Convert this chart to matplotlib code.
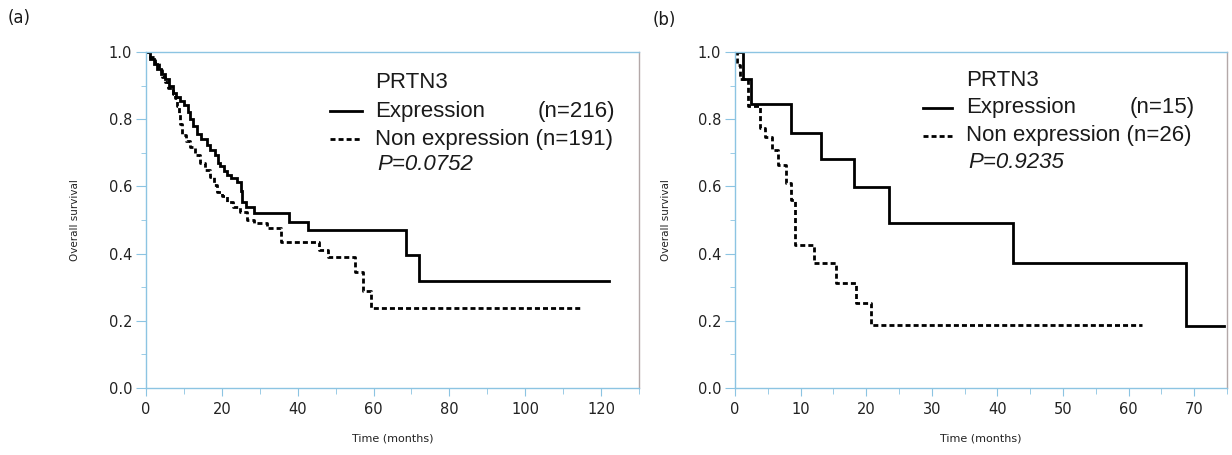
import matplotlib
matplotlib.use("Agg")
import matplotlib.pyplot as plt
from matplotlib.ticker import MultipleLocator, FormatStrFormatter

# Kaplan-Meier curves (time in months, survival after the step)
a_expr_t = [0, 1, 2, 3, 4, 5, 6, 7, 8, 9, 10, 11, 11.5, 12.5, 13.4, 14.5, 16, 17, 18.3, 19,
            19.6, 20.5, 21.4, 22.5, 24, 25, 25.3, 26.5, 28.4, 37.7, 42.6, 68.6, 72.1, 122]
a_expr_s = [1.0, 0.98, 0.965, 0.95, 0.935, 0.92, 0.9, 0.877, 0.865, 0.855, 0.842, 0.82, 0.80,
            0.78, 0.755, 0.74, 0.723, 0.708, 0.693, 0.669, 0.66, 0.645, 0.634, 0.625, 0.614,
            0.585, 0.554, 0.54, 0.522, 0.495, 0.47, 0.396, 0.319, 0.319]

a_non_t = [0, 1, 2.4, 3.3, 4.2, 5, 5.9, 7, 7.7, 8.2, 8.6, 9, 9.5, 10.5, 11.7, 13, 14.3, 15.5,
           17, 18, 18.7, 20, 21.4, 23, 24.9, 26.7, 28.4, 32, 35.5, 45.6, 48, 55.2, 57.2, 59.3, 115]
a_non_s = [1.0, 0.985, 0.966, 0.945, 0.927, 0.91, 0.892, 0.875, 0.862, 0.84, 0.818, 0.785,
           0.753, 0.735, 0.718, 0.692, 0.669, 0.65, 0.629, 0.605, 0.584, 0.57, 0.555, 0.54,
           0.525, 0.50, 0.49, 0.475, 0.435, 0.41, 0.389, 0.346, 0.29, 0.237, 0.237]

b_expr_t = [0, 1.26, 2.4, 8.6, 13.1, 18.1, 23.5, 42.4, 68.7, 74.5]
b_expr_s = [1.0, 0.92, 0.845, 0.758, 0.681, 0.598, 0.49, 0.371, 0.185, 0.185]

b_non_t = [0, 0.3, 0.8, 2.0, 3.8, 4.6, 5.6, 6.6, 7.8, 8.6, 9.1, 12.1, 15.4, 18.4, 20.7, 62]
b_non_s = [1.0, 0.962, 0.92, 0.84, 0.773, 0.748, 0.708, 0.664, 0.611, 0.56, 0.426, 0.373,
           0.312, 0.252, 0.188, 0.188]

panels = [
    {"tag": "(a)", "t1": a_expr_t, "s1": a_expr_s, "t2": a_non_t, "s2": a_non_s,
     "n1": "(n=216)", "n2": "(n=191)", "p": "P=0.0752", "xmax": 130, "xmaj": 20, "xmin": 10},
    {"tag": "(b)", "t1": b_expr_t, "s1": b_expr_s, "t2": b_non_t, "s2": b_non_s,
     "n1": "(n=15)", "n2": "(n=26)", "p": "P=0.9235", "xmax": 75, "xmaj": 10, "xmin": 5},
]

W, H = 1232, 455
spine_blue = "#8cc4e2"
dash = (0, (1.8, 1.1))
legend_font = "Liberation Sans"
legend_size = 16

fig = plt.figure(figsize=(W / 100, H / 100), dpi=100)

# axes boxes in pixels: left, right, top, bottom
boxes = [(146, 639, 52, 388), (735, 1227, 52, 388)]
# legend anchors in pixels: sample line x0, x1, text x, n x, first row y
leg_pos = [(330, 362, 375, 538, 83), (923, 952, 966, 1130, 80)]
tag_pos = [(8, 18), (653, 20)]
ylab_x = [75, 666]


def fx(px):
    return px / W


def fy(py):
    return 1 - py / H


for i, p in enumerate(panels):
    l, r, t, b = boxes[i]
    ax = fig.add_axes([fx(l), fy(b), fx(r) - fx(l), fy(t) - fy(b)])

    ax.step(p["t1"], p["s1"], where="post", color="black", lw=2.0, solid_joinstyle="miter")
    ax.step(p["t2"], p["s2"], where="post", color="black", lw=2.0, linestyle=dash)

    ax.set_xlim(0, p["xmax"])
    ax.set_ylim(0, 1.0)
    ax.xaxis.set_major_locator(MultipleLocator(p["xmaj"]))
    ax.xaxis.set_minor_locator(MultipleLocator(p["xmin"]))
    ax.yaxis.set_major_locator(MultipleLocator(0.2))
    ax.yaxis.set_minor_locator(MultipleLocator(0.1))
    ax.yaxis.set_major_formatter(FormatStrFormatter("%.1f"))

    for side in ["left", "bottom", "top"]:
        ax.spines[side].set_color(spine_blue)
    ax.spines["right"].set_color("#b3a8a8")
    for sp in ax.spines.values():
        sp.set_linewidth(1.0)

    ax.tick_params(axis="both", which="both", color=spine_blue, labelcolor="#222222",
                   labelsize=10.5, direction="out")
    ax.tick_params(axis="y", which="major", length=7, pad=3)
    ax.tick_params(axis="y", which="minor", length=3.5)
    ax.tick_params(axis="x", which="major", length=6, pad=4)
    ax.tick_params(axis="x", which="minor", length=4.5)

    ax.set_xlabel("Time (months)", fontsize=8, color="#222222", labelpad=12)
    fig.text(fx(ylab_x[i]), fy((t + b) / 2), "Overall survival", rotation=90,
             fontsize=7.5, color="#222222", ha="center", va="center")

    # legend drawn by hand to match the original layout
    x0, x1, tx, nx, y0 = leg_pos[i]
    row = 28
    fig.text(fx(tx), fy(y0), "PRTN3", fontsize=legend_size, family=legend_font,
             color="#1a1a1a", va="center")
    fig.add_artist(plt.Line2D([fx(x0), fx(x1)], [fy(y0 + row), fy(y0 + row)],
                              color="black", lw=2.0, transform=fig.transFigure))
    fig.add_artist(plt.Line2D([fx(x0), fx(x1)], [fy(y0 + 2 * row), fy(y0 + 2 * row)],
                              color="black", lw=2.0, linestyle=dash,
                              transform=fig.transFigure))
    fig.text(fx(tx), fy(y0 + row), "Expression", fontsize=legend_size, family=legend_font,
             color="#1a1a1a", va="center")
    fig.text(fx(nx), fy(y0 + row), p["n1"], fontsize=legend_size, family=legend_font,
             color="#1a1a1a", va="center")
    fig.text(fx(tx), fy(y0 + 2 * row), "Non expression " + p["n2"], fontsize=legend_size,
             family=legend_font, color="#1a1a1a", va="center")
    fig.text(fx(tx + 2), fy(y0 + 3 * row - 2), p["p"], fontsize=legend_size,
             family=legend_font, style="italic", color="#1a1a1a", va="center")

    fig.text(fx(tag_pos[i][0]), fy(tag_pos[i][1]), p["tag"], fontsize=12,
             color="#1a1a1a", va="center")

fig.savefig("out.png", dpi=100)
